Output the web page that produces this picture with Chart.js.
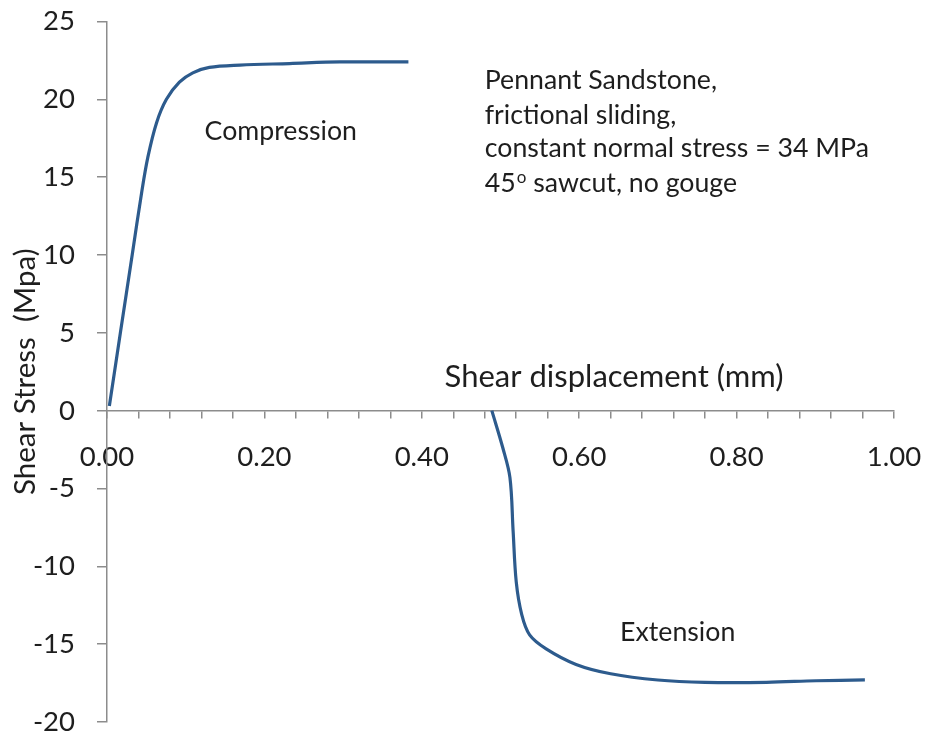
<!DOCTYPE html>
<html><head><meta charset="utf-8">
<script src="https://cdn.jsdelivr.net/npm/chart.js@4.4.0/dist/chart.umd.min.js"></script>
<style>html,body{margin:0;padding:0;background:#fff;}</style>
</head><body>
<canvas id="c" width="925" height="735"></canvas>
<script>
// ---- data ----
const compressionX = [0.003, 0.017, 0.032, 0.044, 0.052, 0.063, 0.0755, 0.092, 0.109, 0.130, 0.169, 0.232, 0.296, 0.383];
const compressionY = [0.3, 5.0, 10.0, 14.0, 16.3, 18.5, 20.0, 21.1, 21.7, 22.05, 22.2, 22.3, 22.4, 22.4];
const extensionX = [0.489, 0.503, 0.512, 0.516, 0.520, 0.527, 0.537, 0.558, 0.596, 0.640, 0.700, 0.760, 0.838, 0.901, 0.963];
const extensionY = [0.0, -2.4, -4.3, -7.7, -11.0, -13.1, -14.4, -15.3, -16.3, -16.9, -17.3, -17.45, -17.45, -17.35, -17.3];
const xTickValues = [0.00, 0.20, 0.40, 0.60, 0.80, 1.00];
const yTickValues = [-20, -15, -10, -5, 0, 5, 10, 15, 20, 25];
const xAxisTitle = 'Shear displacement (mm)';
const yAxisTitle = 'Shear Stress  (Mpa)';
const noteLines = ['Pennant Sandstone,', 'frictional sliding,', 'constant normal stress = 34 MPa'];
const noteLastLine = ['45', 'o', ' sawcut, no gouge'];
const curveLabels = ['Compression', 'Extension'];

// ---- text placement (in data units) ----
const textFont = '26.7px Lato';
const textPlacement = {
  compression: {x: 0.124, y: 17.4},
  extension: {x: 0.652, y: -14.8},
  xTitle: {x: 0.429, y: 1.5},
  note: {x: 0.48, y: [20.67, 18.44, 16.28, 14.03]}
};

const toPoints = (xs, ys) => xs.map((x, i) => ({x, y: ys[i]}));
const lineColor = '#2d5b8d';
const axisColor = '#8c8c8c';

const textPlugin = {
  id: 'texts',
  afterDatasetsDraw(chart) {
    const ctx = chart.ctx, xs = chart.scales.x, ys = chart.scales.y;
    ctx.save();
    ctx.fillStyle = '#1e1e1e';
    ctx.textBaseline = 'alphabetic';
    ctx.textAlign = 'left';
    ctx.font = textFont;
    ctx.fillText(curveLabels[0], xs.getPixelForValue(textPlacement.compression.x), ys.getPixelForValue(textPlacement.compression.y));
    ctx.fillText(curveLabels[1], xs.getPixelForValue(textPlacement.extension.x), ys.getPixelForValue(textPlacement.extension.y));
    const nx = xs.getPixelForValue(textPlacement.note.x);
    noteLines.forEach((t, i) => ctx.fillText(t, nx, ys.getPixelForValue(textPlacement.note.y[i])));
    const by = ys.getPixelForValue(textPlacement.note.y[3]);
    let cx = nx;
    ctx.fillText(noteLastLine[0], cx, by); cx += ctx.measureText(noteLastLine[0]).width + 1;
    ctx.font = '17px Lato';
    ctx.fillText(noteLastLine[1], cx, by - 9); cx += ctx.measureText(noteLastLine[1]).width;
    ctx.font = textFont;
    ctx.fillText(noteLastLine[2], cx, by);
    ctx.font = '31px Lato';
    ctx.fillText(xAxisTitle, xs.getPixelForValue(textPlacement.xTitle.x), ys.getPixelForValue(textPlacement.xTitle.y));
    ctx.restore();
  }
};

new Chart(document.getElementById('c'), {
  type: 'scatter',
  data: {
    datasets: [
      {data: toPoints(compressionX, compressionY), showLine: true, borderColor: lineColor, borderWidth: 3.2, pointRadius: 0, tension: 0.35, fill: false},
      {data: toPoints(extensionX, extensionY), showLine: true, borderColor: lineColor, borderWidth: 3.2, pointRadius: 0, tension: 0.35, fill: false}
    ]
  },
  options: {
    responsive: false,
    animation: false,
    layout: {padding: {left: 7, right: 31, top: 21.5, bottom: 13}},
    plugins: {legend: {display: false}, tooltip: {enabled: false}},
    scales: {
      x: {
        type: 'linear', min: 0, max: 1, position: {y: 0},
        afterBuildTicks: (s) => { const t = []; for (let i = 0; i <= 25; i++) t.push({value: i * 0.04}); s.ticks = t; },
        afterFit: (s) => { s.paddingLeft = 0; s.paddingRight = 0; },
        ticks: {
          autoSkip: false, maxRotation: 0, padding: 26, color: '#1e1e1e',
          font: {family: 'Lato', size: 27.5, lineHeight: 1.0},
          callback: (v) => { const m = xTickValues.find(t => Math.abs(t - v) < 1e-6); return m === undefined ? '' : m.toFixed(2); }
        },
        grid: {drawOnChartArea: false, drawTicks: true, tickLength: 7, color: axisColor, lineWidth: 1.5},
        border: {display: true, color: axisColor, width: 1.5}
      },
      y: {
        type: 'linear', min: -20, max: 25, position: 'left',
        afterBuildTicks: (s) => { s.ticks = yTickValues.map(v => ({value: v})); },
        afterFit: (s) => { s.width = 100; s.paddingTop = 0; s.paddingBottom = 0; },
        ticks: {padding: 22, color: '#1e1e1e', font: {family: 'Lato', size: 27.5, lineHeight: 1.0}},
        grid: {drawOnChartArea: false, drawTicks: true, tickLength: 10, color: axisColor, lineWidth: 1.5},
        border: {display: true, color: axisColor, width: 1.5},
        title: {display: true, text: yAxisTitle, color: '#1e1e1e', font: {family: 'Lato', size: 29.5, lineHeight: 1.1}, padding: {top: 2, bottom: 0}}
      }
    }
  },
  plugins: [textPlugin]
});
</script>
</body></html>
